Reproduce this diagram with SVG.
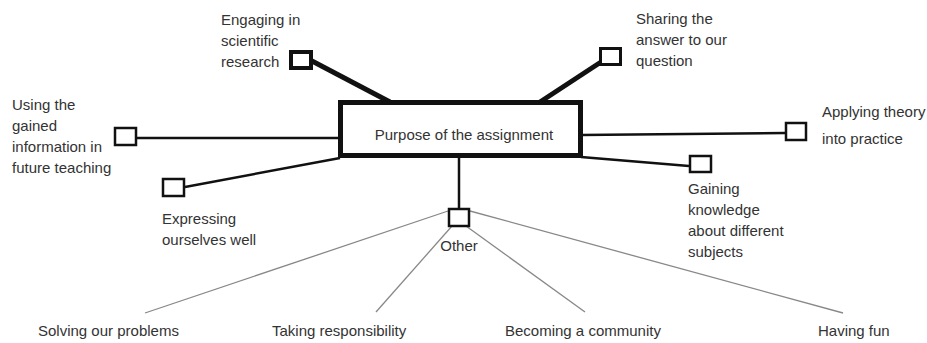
<svg xmlns="http://www.w3.org/2000/svg" width="927" height="343" viewBox="0 0 927 343">
<style>
text{font-family:"Liberation Sans",Arial,sans-serif;font-size:15px;fill:#333}
.box{fill:#fff;stroke:#111;stroke-width:2.5}
.thin{stroke:#111;stroke-width:2.5;fill:none}
.thick{stroke:#111;stroke-width:5;fill:none}
.grey{stroke:#888;stroke-width:1.3;fill:none}
</style>
<rect width="927" height="343" fill="#fff"/>
<g id="connectors">
<line class="thick" x1="312" y1="61" x2="390" y2="102"/>
<line class="thick" x1="601" y1="62" x2="540" y2="102"/>
<line class="thin" x1="137" y1="138" x2="340" y2="138"/>
<line class="thin" x1="185" y1="187" x2="340" y2="158"/>
<line class="thin" x1="581" y1="135" x2="785" y2="133"/>
<line class="thin" x1="581" y1="157" x2="689" y2="166"/>
<line class="thin" x1="459" y1="157" x2="459" y2="209"/>
<line class="grey" x1="448" y1="211" x2="145" y2="313"/>
<line class="grey" x1="452" y1="226" x2="376" y2="312"/>
<line class="grey" x1="466" y1="226" x2="585" y2="312"/>
<line class="grey" x1="470" y1="211" x2="843" y2="313"/>
</g>
<g id="center">
<rect x="340.5" y="102.5" width="240" height="53" fill="#fff" stroke="#111" stroke-width="5"/>
<text x="464" y="140" text-anchor="middle">Purpose of the assignment</text>
</g>
<g id="engaging">
<rect x="291" y="52" width="20" height="16" fill="#fff" stroke="#111" stroke-width="4"/>
<text x="221" y="25">Engaging in</text>
<text x="221" y="46">scientific</text>
<text x="221" y="67">research</text>
</g>
<g id="sharing">
<rect x="600.5" y="48.5" width="20" height="16" fill="#fff" stroke="#111" stroke-width="3"/>
<text x="636" y="24">Sharing the</text>
<text x="636" y="45">answer to our</text>
<text x="636" y="66">question</text>
</g>
<g id="using">
<rect class="box" x="115" y="128" width="21" height="17"/>
<text x="12" y="110">Using the</text>
<text x="12" y="131">gained</text>
<text x="12" y="152">information in</text>
<text x="12" y="173">future teaching</text>
</g>
<g id="expressing">
<rect class="box" x="163" y="179" width="21" height="17"/>
<text x="162" y="224">Expressing</text>
<text x="162" y="245">ourselves well</text>
</g>
<g id="applying">
<rect class="box" x="786" y="123" width="20" height="17"/>
<text x="822" y="117">Applying theory</text>
<text x="822" y="144">into practice</text>
</g>
<g id="gaining">
<rect class="box" x="690" y="156" width="21" height="16"/>
<text x="688" y="194">Gaining</text>
<text x="688" y="215">knowledge</text>
<text x="688" y="236">about different</text>
<text x="688" y="257">subjects</text>
</g>
<g id="other">
<rect class="box" x="449" y="209" width="20" height="17"/>
<text x="459" y="251" text-anchor="middle">Other</text>
</g>
<g id="solving"><text x="38" y="336">Solving our problems</text></g>
<g id="taking"><text x="272" y="336">Taking responsibility</text></g>
<g id="becoming"><text x="505" y="336">Becoming a community</text></g>
<g id="fun"><text x="818" y="336">Having fun</text></g>
</svg>
